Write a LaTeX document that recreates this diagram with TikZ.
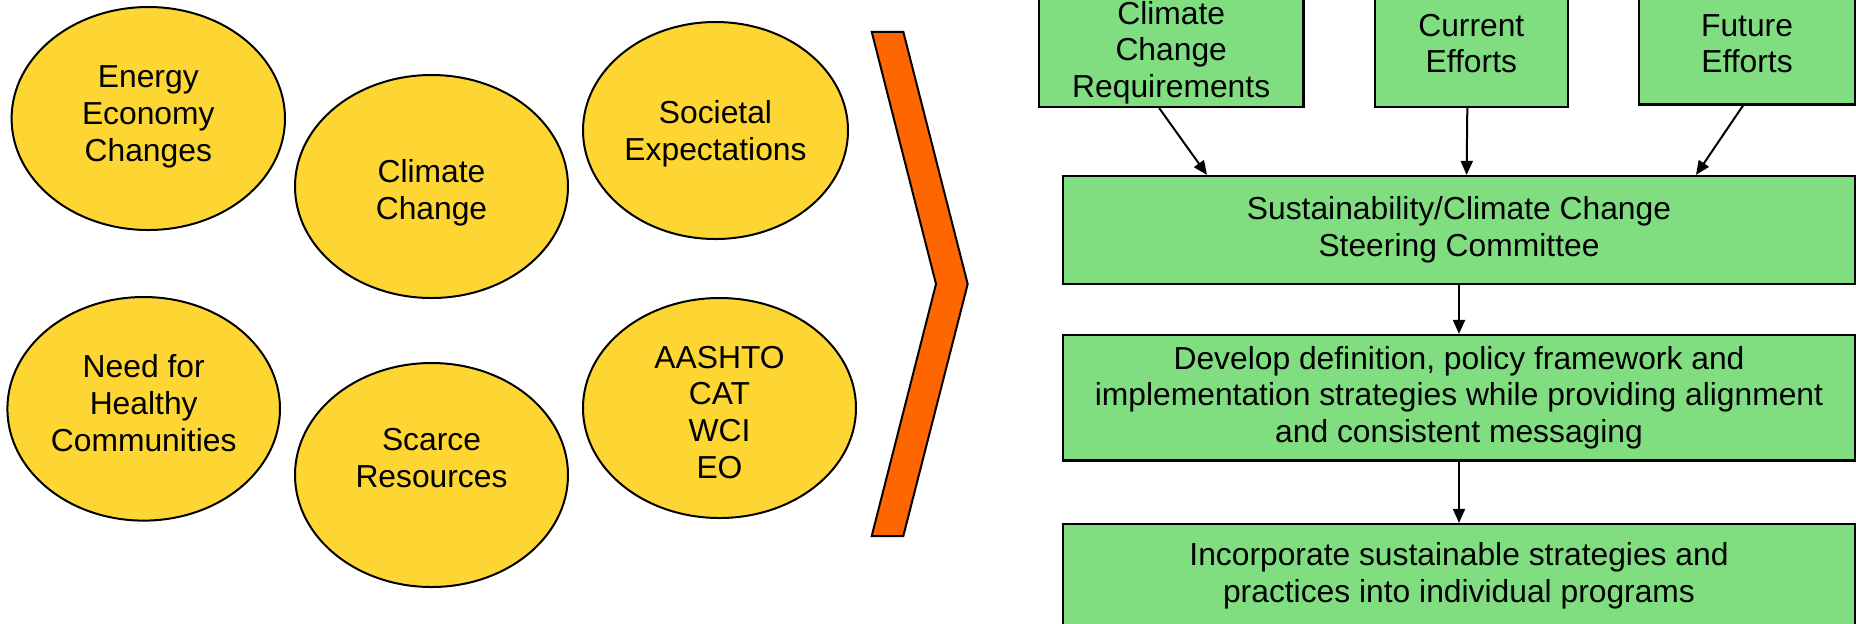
\documentclass[tikz,border=0pt]{standalone}
\usepackage{fontspec}
\setmainfont{Liberation Sans}
\usetikzlibrary{arrows.meta}
\definecolor{sunyellow}{HTML}{FDD633}
\definecolor{leafgreen}{HTML}{80DE80}
\definecolor{chevorange}{HTML}{FF6600}

\begin{document}
\begin{tikzpicture}[x=0.5pt,y=-0.5pt,
  bubble/.style={draw,line width=1pt,fill=sunyellow},
  bubbletext/.style={align=center,inner sep=0pt,font=\fontsize{15.9}{18.3}\selectfont},
  box/.style={draw,rectangle,line width=1.1pt,fill=leafgreen,align=center,inner sep=0pt,font=\fontsize{15.9}{18.3}\selectfont},
  arr/.style={-{Triangle[length=7pt,width=6pt]},line width=1pt}]
  \useasboundingbox (0,0) rectangle (1856,623);
  \clip (0,0) rectangle (1856,623);
  % drivers
  \draw[bubble] (148.3,118.5) ellipse [x radius=136.7, y radius=111.5];
  \draw[bubble] (431.5,186.5) ellipse [x radius=136.5, y radius=111.5];
  \draw[bubble] (715.5,130.5) ellipse [x radius=132.5, y radius=108.5];
  \draw[bubble] (143.7,408.8) ellipse [x radius=136.3, y radius=111.8];
  \draw[bubble] (431.5,475) ellipse [x radius=136.5, y radius=112];
  \draw[bubble] (719.5,408) ellipse [x radius=136.5, y radius=110];
  \node[bubbletext] (energy) at (148.3,116.8) {Energy\\Economy\\Changes};
  \node[bubbletext] (climate) at (431.5,193) {Climate\\Change};
  \node[bubbletext] (societal) at (715.5,134) {Societal\\Expectations};
  \node[bubbletext] (health) at (143.7,403.2) {Need for\\Healthy\\Communities};
  \node[bubbletext] (scarce) at (431.5,458) {Scarce\\Resources};
  \node[bubbletext] (aashto) at (719.5,412.3) {AASHTO\\CAT\\WCI\\EO};
  % chevron
  \draw[line width=1pt, fill=chevorange] (871.7,31.8) -- (903.3,31.8) -- (967.7,284) -- (903.3,536) -- (871.7,536) -- (936,284) -- cycle;
  % inputs
  \node[box, minimum width=132.25pt, minimum height=54.5pt] (creq) at (1171.2,52.5) {Climate\\Change\\Requirements};
  \node[box, minimum width=96.35pt, minimum height=63.3pt] (cur) at (1471.3,43.7) {Current\\Efforts};
  \node[box, minimum width=108.2pt, minimum height=60.75pt] (fut) at (1747,43.7) {Future\\Efforts};
  % process
  \node[box, minimum width=396pt, minimum height=54pt] (steer) at (1459,230) {Sustainability/Climate Change\\Steering Committee};
  \node[box, minimum width=396pt, minimum height=62.75pt] (dev) at (1459,397.75) {Develop definition, policy framework and\\implementation strategies while providing alignment\\and consistent messaging};
  \node[box, minimum width=396pt, minimum height=52pt] (inc) at (1459,576) {Incorporate sustainable strategies and\\practices into individual programs};
  \draw[arr] ([xshift=-6pt]creq.south) -- ([xshift=-126pt]steer.north);
  \draw[arr] ([xshift=-2pt]cur.south) -- ([xshift=3.8pt]steer.north);
  \draw[arr] ([xshift=-2pt]fut.south) -- ([xshift=118.5pt]steer.north);
  \draw[arr] (steer) -- (dev);
  \draw[arr] (dev) -- (inc);
\end{tikzpicture}
\end{document}
